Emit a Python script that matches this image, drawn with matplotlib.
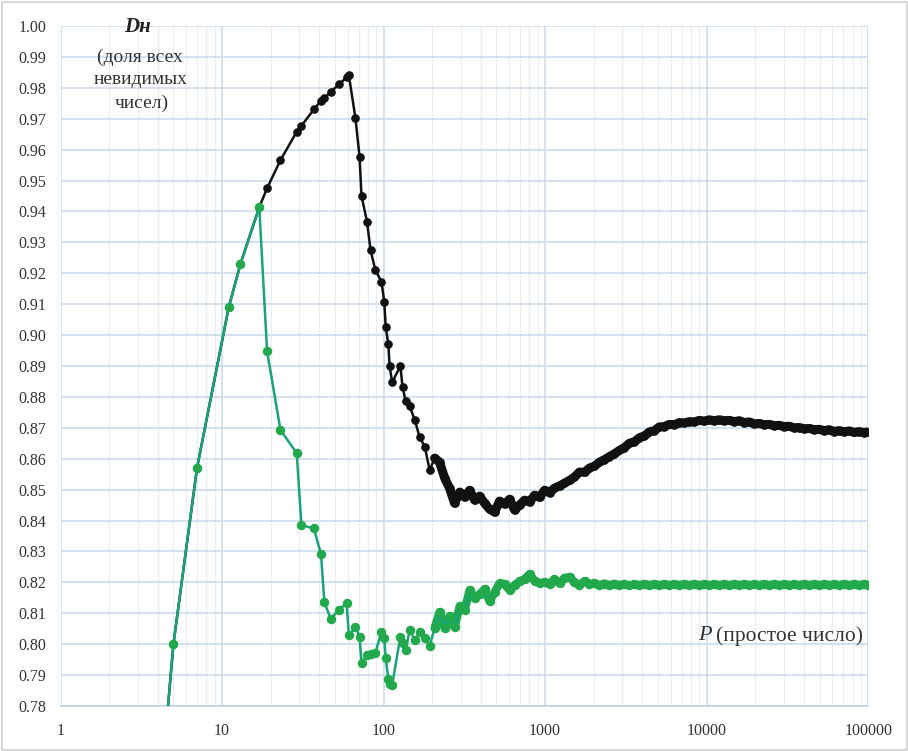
import numpy as np
import matplotlib
matplotlib.use("Agg")
import matplotlib.pyplot as plt
from matplotlib.ticker import FixedLocator, LogLocator, NullFormatter, FixedFormatter
from matplotlib.patches import Rectangle

# ---------------- data ----------------
p_early = [3, 5, 7, 11, 13, 17]
d_early = [0.667, 0.800, 0.857, 0.909, 0.923, 0.9414]

p_mid = [19, 23, 29, 31, 37, 41, 43, 47, 53, 59,
         61, 67, 71, 73, 79, 83, 89, 97, 101, 103,
         107, 109, 113, 127, 131]
black_mid = [0.9475, 0.9566, 0.9658, 0.9677, 0.9730, 0.9758, 0.9766, 0.9787, 0.9811, 0.9834,
             0.9840, 0.9701, 0.9577, 0.9450, 0.9367, 0.9275, 0.9210, 0.9173, 0.9108, 0.9027,
             0.8970, 0.8900, 0.8847, 0.8900, 0.8833]
green_mid = [0.8948, 0.8693, 0.8618, 0.8385, 0.8375, 0.8291, 0.8136, 0.8083, 0.8110, 0.8134,
             0.8029, 0.8056, 0.8024, 0.7939, 0.7964, 0.7968, 0.7972, 0.8040, 0.8019, 0.7955,
             0.7888, 0.7870, 0.7868, 0.8024, 0.8005]

p_dense = [137, 145, 156, 167, 180, 193, 207, 222, 239, 256,
           275, 296, 317, 341, 366, 393, 422, 453, 487, 522,
           561, 603, 647, 695, 746, 801, 860, 924, 992, 1065,
           1143, 1228, 1318, 1416, 1520, 1632, 1753, 1882, 2021, 2170,
           2330, 2502, 2687, 2885, 3098, 3327, 3573, 3836, 4119, 4423,
           4750, 5100, 5476, 5880, 6314, 6781, 7280, 7817, 8394, 9013,
           9678, 10392, 11160, 11983, 12868, 13816, 14838, 15933, 17108, 18370,
           19725, 21181, 22743, 24420, 26230, 28160, 30240, 32470, 34860, 37440,
           40200, 43160, 46340, 49780, 53450, 57400, 61630, 66170, 71060, 76300,
           81920, 87960, 94470, 100000]
black_dense = [0.8786, 0.8770, 0.8725, 0.8671, 0.8638, 0.8563, 0.8602, 0.8589, 0.8537, 0.8505,
               0.8456, 0.8492, 0.8476, 0.8498, 0.8466, 0.8479, 0.8456, 0.8437, 0.8427, 0.8463,
               0.8453, 0.8469, 0.8434, 0.8450, 0.8466, 0.8460, 0.8482, 0.8475, 0.8498, 0.8490,
               0.8505, 0.8512, 0.8521, 0.8530, 0.8541, 0.8557, 0.8556, 0.8570, 0.8576, 0.8589,
               0.8597, 0.8607, 0.8616, 0.8627, 0.8636, 0.8650, 0.8655, 0.8668, 0.8674, 0.8687,
               0.8691, 0.8703, 0.8704, 0.8711, 0.8710, 0.8717, 0.8716, 0.8720, 0.8719, 0.8724,
               0.8722, 0.8726, 0.8723, 0.8726, 0.8723, 0.8724, 0.8720, 0.8723, 0.8717, 0.8719,
               0.8713, 0.8714, 0.8710, 0.8711, 0.8707, 0.8708, 0.8704, 0.8705, 0.8700, 0.8701,
               0.8697, 0.8698, 0.8694, 0.8695, 0.8691, 0.8694, 0.8688, 0.8691, 0.8687, 0.8690,
               0.8685, 0.8688, 0.8684, 0.8687]
green_dense = [0.7981, 0.8045, 0.8013, 0.8039, 0.8019, 0.7994, 0.8052, 0.8104, 0.8052, 0.8091,
               0.8055, 0.8123, 0.8110, 0.8175, 0.8149, 0.8162, 0.8178, 0.8139, 0.8168, 0.8197,
               0.8194, 0.8175, 0.8191, 0.8204, 0.8210, 0.8227, 0.8204, 0.8197, 0.8201, 0.8194,
               0.8210, 0.8197, 0.8214, 0.8217, 0.8201, 0.8191, 0.8204, 0.8194, 0.8197, 0.8191,
               0.8196, 0.8191, 0.8195, 0.8191, 0.8194, 0.8190, 0.8194, 0.8191, 0.8194, 0.8191,
               0.8194, 0.8191, 0.8194, 0.8191, 0.8194, 0.8191, 0.8194, 0.8191, 0.8194, 0.8191,
               0.8194, 0.8191, 0.8194, 0.8191, 0.8194, 0.8191, 0.8194, 0.8191, 0.8194, 0.8191,
               0.8194, 0.8191, 0.8194, 0.8191, 0.8194, 0.8191, 0.8194, 0.8191, 0.8194, 0.8191,
               0.8194, 0.8191, 0.8194, 0.8191, 0.8194, 0.8191, 0.8194, 0.8191, 0.8194, 0.8191,
               0.8194, 0.8191, 0.8194, 0.8192]

x_ticks = [1, 10, 100, 1000, 10000, 100000]
x_tick_labels = ["1", "10", "100", "1000", "10000", "100000"]
y_ticks = [0.78, 0.79, 0.80, 0.81, 0.82, 0.83, 0.84, 0.85, 0.86, 0.87, 0.88,
           0.89, 0.90, 0.91, 0.92, 0.93, 0.94, 0.95, 0.96, 0.97, 0.98, 0.99, 1.00]

black_x = p_early + p_mid + p_dense
black_y = d_early + black_mid + black_dense
green_x = p_early + p_mid + p_dense
green_y = d_early + green_mid + green_dense

# ---------------- figure ----------------
W, H = 908, 751
fig = plt.figure(figsize=(W / 100, H / 100), dpi=100)
fig.patch.set_facecolor("white")

left, right, top, bottom = 60.5, 868.2, 26, 706
ax = fig.add_axes([left / W, 1 - bottom / H, (right - left) / W, (bottom - top) / H])
ax.set_xscale("log")
ax.set_xlim(1, 100000)
ax.set_ylim(0.78, 1.00)

ax.xaxis.set_major_locator(FixedLocator(x_ticks))
ax.xaxis.set_major_formatter(FixedFormatter(x_tick_labels))
ax.xaxis.set_minor_locator(LogLocator(base=10, subs=np.arange(2, 10)))
ax.xaxis.set_minor_formatter(NullFormatter())
ax.yaxis.set_major_locator(FixedLocator(y_ticks))
ax.set_yticklabels([f"{v:.2f}" for v in y_ticks])

ax.grid(True, which="major", color="#c8d8ea", lw=1.1, zorder=0)
ax.grid(True, which="minor", axis="x", color="#e8eef6", lw=0.9, zorder=0)
ax.set_axisbelow(True)
for s in ["top", "right", "left"]:
    ax.spines[s].set_visible(False)
ax.spines["bottom"].set_color("#bccde0")
ax.spines["bottom"].set_linewidth(1.1)

ax.tick_params(axis="both", which="both", length=0)
ax.tick_params(axis="y", pad=10)
ax.tick_params(axis="x", pad=12)
for lab in ax.get_xticklabels() + ax.get_yticklabels():
    lab.set_fontfamily("Liberation Serif")
    lab.set_fontsize(11.5)
    lab.set_color("#333333")

BLACK = "#111111"
GREEN_LINE = "#19a37a"
GREEN_MARK = "#22a94c"

# dense tails: solid band under the markers, as the overlapping markers form in the original
ax.plot(p_dense[6:], black_dense[6:], color=BLACK, lw=6.5, solid_joinstyle="round",
        solid_capstyle="round", zorder=2.5)
ax.plot(p_dense[6:], green_dense[6:], color=GREEN_MARK, lw=6.0, solid_joinstyle="round",
        solid_capstyle="round", zorder=3.5)

ax.plot(black_x, black_y, color=BLACK, lw=1.8, marker="o", ms=5.2,
        mfc=BLACK, mec=BLACK, zorder=3)
ax.plot(green_x, green_y, color=GREEN_LINE, lw=1.8, marker="o", ms=5.8,
        mfc=GREEN_MARK, mec=GREEN_MARK, zorder=4)

# ---------------- annotations ----------------
def ftext(x, y, s, **kw):
    fig.text(x / W, 1 - y / H, s, **kw)

ftext(138, 27, "Dн", fontfamily="Liberation Serif", fontsize=15, fontweight="bold",
      fontstyle="italic", ha="center", va="center", color="#222222")
ftext(140, 57, "(доля всех", fontfamily="Liberation Serif", fontsize=14,
      ha="center", va="center", color="#333333")
ftext(141, 79, "невидимых", fontfamily="Liberation Serif", fontsize=14,
      ha="center", va="center", color="#333333")
ftext(142, 103, "чисел)", fontfamily="Liberation Serif", fontsize=14,
      ha="center", va="center", color="#333333")

ftext(698, 636, "P", fontfamily="Liberation Serif", fontsize=16, fontstyle="italic",
      ha="left", va="center", color="#333333")
ftext(716, 636, "(простое число)", fontfamily="Liberation Serif", fontsize=15.5,
      ha="left", va="center", color="#333333")

fig.patches.append(Rectangle((1.5 / W, 1.5 / H), (W - 3) / W, (H - 3) / H,
                             transform=fig.transFigure, fill=False,
                             edgecolor="#d0d0d0", lw=1.2))

fig.savefig("out.png", dpi=100, facecolor="white")
